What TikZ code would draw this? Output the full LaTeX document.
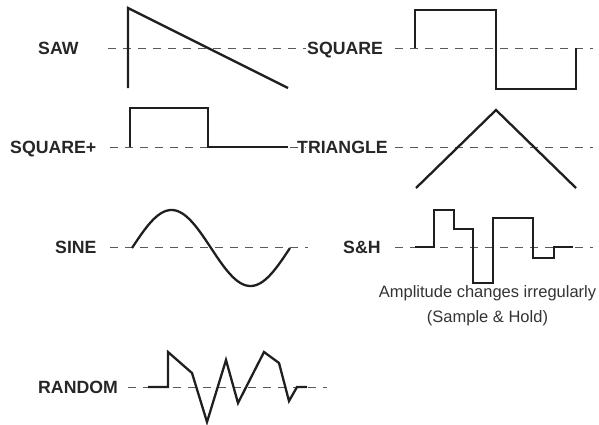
\documentclass[tikz,border=0pt]{standalone}
\usepackage{fontspec}
\setmainfont{Liberation Sans}
\begin{document}
\begin{tikzpicture}[x=1pt,y=-1pt,
  lbl/.style={font=\fontsize{17.7}{20}\selectfont\bfseries, text=black!85, inner sep=0pt, anchor=west, text height=12.7pt, text depth=0pt},
  note/.style={font=\fontsize{16.5}{19}\selectfont, text=black!80, inner sep=0pt, anchor=base},
  axis/.style={draw=black!65, line width=1pt, dash pattern=on 8pt off 7pt},
  wave/.style={draw=black!88, line width=2.3pt, line join=miter, line cap=butt}]
\useasboundingbox (0,0) rectangle (599,424);
% baselines (dashed)
\coordinate (a1) at (108,48);  \coordinate (a2) at (306,48);
\coordinate (b1) at (395,48);  \coordinate (b2) at (593,48);
\coordinate (c1) at (110,147); \coordinate (c2) at (306,147);
\coordinate (d1) at (395,147); \coordinate (d2) at (593,147);
\coordinate (e1) at (110,247); \coordinate (e2) at (308,247);
\coordinate (f1) at (395,247); \coordinate (f2) at (593,247);
\coordinate (g1) at (128,387); \coordinate (g2) at (327,387);
\draw[axis] (a1) -- (a2);
\draw[axis] (b1) -- (b2);
\draw[axis] (c1) -- (c2);
\draw[axis] (d1) -- (d2);
\draw[axis] (e1) -- (e2);
\draw[axis] (f1) -- (f2);
\draw[axis] (g1) -- (g2);
% labels
\node[lbl] (saw) at (38,48) {SAW};
\node[lbl] (square) at (307,48) {SQUARE};
\node[lbl] (squarep) at (10,147) {SQUARE+};
\node[lbl] (triangle) at (297,147) {TRIANGLE};
\node[lbl] (sine) at (55,247) {SINE};
\node[lbl] (sh) at (343,247) {S\&H};
\node[lbl] (random) at (38,387) {RANDOM};
\node[note] (amp) at (487.5,297) {Amplitude changes irregularly};
\node[note] (samp) at (487.5,322) {(Sample \& Hold)};
% waveforms
\draw[wave] (128,88) -- (128,8) -- (288,88);
\draw[wave] (415,48) -- (415,10) -- (496,10) -- (496,89) -- (576,89) -- (576,48);
\draw[wave] (130,147) -- (130,108) -- (208,108) -- (208,147) -- (288,147);
\draw[wave] (416,188) -- (496,110) -- (576,188);
\draw[wave] plot[domain=0:158, samples=80, smooth] ({132+\x},{248-38*sin(\x/158*360)});
\draw[wave] (415,247) -- (434,247) -- (434,210) -- (454,210) -- (454,229) -- (473,229) -- (473,283) -- (493,283) -- (493,218) -- (533,218) -- (533,258) -- (554,258) -- (554,247) -- (573,247);
\draw[wave] (148,387) -- (168,387) -- (168,352) -- (192,373) -- (207,422) -- (226,360) -- (238,403) -- (264,352) -- (279,363) -- (289,401) -- (297,387) -- (307,387);
\end{tikzpicture}
\end{document}
